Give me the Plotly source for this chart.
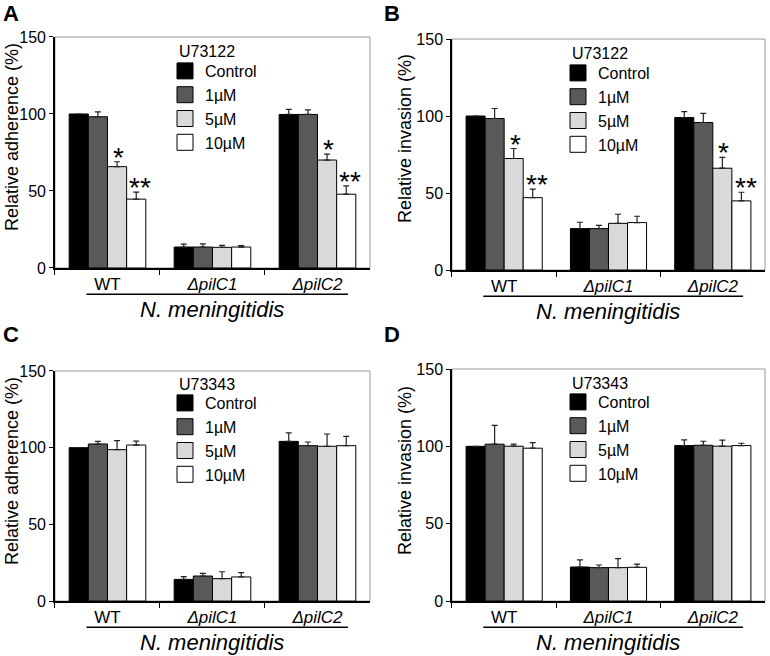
import plotly.graph_objects as go
from plotly.subplots import make_subplots

# --- data (percent of untreated WT) ---
strains = ["WT", "ΔpilC1", "ΔpilC2"]
strain_labels = ["WT", "<i>ΔpilC1</i>", "<i>ΔpilC2</i>"]
doses = ["Control", "1µM", "5µM", "10µM"]
dose_colors = ["#000000", "#595959", "#d9d9d9", "#ffffff"]

# rows = dose (Control, 1, 5, 10 µM), columns = strain
adh_u73122 = [[100.0, 13.6, 99.7], [98.2, 13.6, 99.7], [65.8, 13.4, 70.1], [44.7, 13.6, 47.9]]
adh_u73122_err = [[0.0, 1.9, 3.3], [3.2, 2.1, 3.0], [3.2, 1.3, 3.9], [4.5, 0.9, 5.4]]

inv_u73122 = [[100.0, 26.9, 99.0], [98.4, 26.9, 95.8], [72.4, 30.3, 66.1], [47.0, 30.8, 44.9]]
inv_u73122_err = [[0.0, 4.1, 3.8], [6.5, 2.1, 5.9], [6.5, 5.9, 7.0], [5.5, 4.1, 5.6]]

adh_u73343 = [[100.0, 14.1, 104.1], [102.4, 16.3, 101.3], [98.7, 14.6, 100.9], [101.7, 15.7, 101.3]]
adh_u73343_err = [[0.0, 1.8, 5.5], [1.7, 1.7, 2.4], [5.9, 4.5, 8.0], [2.6, 2.8, 6.1]]

inv_u73343 = [[100.0, 22.0, 100.5], [101.4, 21.6, 100.7], [100.1, 21.6, 100.1], [98.8, 21.8, 100.5]]
inv_u73343_err = [[0.0, 4.6, 3.7], [12.1, 1.7, 2.6], [1.3, 5.8, 3.9], [3.6, 2.0, 1.5]]

# significance marks: (strain, dose index, label)
sig_u73122 = [("WT", 2, "*"), ("WT", 3, "**"), ("ΔpilC2", 2, "*"), ("ΔpilC2", 3, "**")]

FONT = "Liberation Sans, Arial, sans-serif"
W, H = 770, 656

panels = [
    # letter, means, errs, ytitle, inhibitor, sig, row, col, xdom, ydom,
    # legend pos, letter pos, y-title centre (all in page pixels)
    ("A", adh_u73122, adh_u73122_err, "Relative adherence (%)", "U73122", sig_u73122,
     1, 1, [0.0714, 0.4805], [0.5915, 0.9436], (177, 52), (11, 13.5), (12, 137)),
    ("B", inv_u73122, inv_u73122_err, "Relative invasion (%)", "U73122", sig_u73122,
     1, 2, [0.587, 0.9935], [0.5884, 0.9405], (570, 54), (392, 13.5), (405, 139)),
    ("C", adh_u73343, adh_u73343_err, "Relative adherence (%)", "U73343", [],
     2, 1, [0.0714, 0.4805], [0.0838, 0.4345], (177, 384), (11, 335), (12, 471)),
    ("D", inv_u73343, inv_u73343_err, "Relative invasion (%)", "U73343", [],
     2, 2, [0.587, 0.9935], [0.0838, 0.4375], (570, 383), (392, 335), (405, 471)),
]

fig = make_subplots(rows=2, cols=2)

annotations = []
shapes = []
for k, (letter, means, errs, ytitle, inhib, sig, r, c, xdom, ydom, lpos, ppos, tpos) in enumerate(panels):
    legend_id = "legend" if k == 0 else "legend%d" % (k + 1)
    ax = "" if k == 0 else str(k + 1)
    for i, dose in enumerate(doses):
        fig.add_trace(go.Bar(
            x=strains, y=means[i], name=dose, showlegend=False,
            marker=dict(color=dose_colors[i], line=dict(color="#000000", width=1)),
            error_y=dict(type="data", symmetric=False, array=errs[i],
                         arrayminus=[0] * len(strains), color="#222222",
                         thickness=1.2, width=3),
        ), row=r, col=c)
        # legend entry with a bigger square than the bar default
        fig.add_trace(go.Scatter(
            x=[None], y=[None], mode="markers", name=dose, legend=legend_id,
            marker=dict(symbol="square", size=16, color=dose_colors[i],
                        line=dict(color="#000000", width=1)),
        ), row=r, col=c)

    fig.update_xaxes(row=r, col=c, domain=xdom, automargin=False, categoryorder="array",
                     categoryarray=strains, tickvals=strains, ticktext=strain_labels,
                     showline=True, linecolor="#000000", linewidth=2, ticks="outside",
                     tickson="boundaries", ticklen=5, tickcolor="#000000",
                     tickfont=dict(size=17, color="#000000"), showgrid=False, zeroline=False)
    fig.update_yaxes(row=r, col=c, domain=ydom, automargin=False, range=[0, 150],
                     tickvals=[0, 50, 100, 150], showline=True, linecolor="#000000",
                     linewidth=1.5, ticks="outside", ticklen=4, tickcolor="#000000",
                     tickfont=dict(size=16, color="#000000"), showgrid=False, zeroline=False)

    # y title sits a bit above the axis centre in the original, so place it by hand
    annotations.append(dict(xref="paper", yref="paper", x=tpos[0] / W, y=1 - tpos[1] / H,
                            xanchor="center", yanchor="middle", textangle=-90,
                            showarrow=False, text=ytitle,
                            font=dict(size=18, color="#000000")))

    # legend (title drawn separately so the first box sits close under it)
    fig.update_layout(**{legend_id: dict(
        x=(lpos[0] - 12) / W, y=1 - (lpos[1] + 2) / H, xanchor="left", yanchor="top",
        bgcolor="rgba(0,0,0,0)", font=dict(size=16, color="#000000"),
        itemwidth=30, tracegroupgap=0,
    )})
    annotations.append(dict(xref="paper", yref="paper", x=lpos[0] / W, y=1 - lpos[1] / H,
                            xanchor="left", yanchor="middle", showarrow=False, text=inhib,
                            font=dict(size=16, color="#000000")))

    # gray frame on top / right
    shapes.append(dict(type="rect", xref="x%s domain" % ax, yref="y%s domain" % ax,
                       x0=0, x1=1, y0=0, y1=1, line=dict(color="#9a9a9a", width=1),
                       layer="below"))
    # underline + species name
    shapes.append(dict(type="line", xref="x%s domain" % ax, yref="paper",
                       x0=0.1, x1=0.93, y0=ydom[0] - 0.04, y1=ydom[0] - 0.04,
                       line=dict(color="#000000", width=1.5)))
    annotations.append(dict(xref="x%s domain" % ax, yref="paper", x=0.5, y=ydom[0] - 0.041,
                            xanchor="center", yanchor="top", showarrow=False,
                            text="<i>N. meningitidis</i>", font=dict(size=22, color="#000000")))
    # panel letter
    annotations.append(dict(xref="paper", yref="paper", x=ppos[0] / W, y=1 - ppos[1] / H,
                            xanchor="center", yanchor="middle", showarrow=False,
                            text="<b>%s</b>" % letter, font=dict(size=22, color="#000000")))
    # asterisks above error bars
    for strain, di, lab in sig:
        j = strains.index(strain)
        annotations.append(dict(xref="x" + ax, yref="y" + ax, x=strain,
                                y=means[di][j] + errs[di][j], xshift=11 if di == 2 else 33,
                                yshift=-13, xanchor="center", yanchor="bottom",
                                showarrow=False, text=lab,
                                font=dict(size=28, color="#000000")))

fig.update_layout(
    width=W, height=H, margin=dict(l=0, r=0, t=0, b=0),
    plot_bgcolor="#ffffff", paper_bgcolor="#ffffff",
    font=dict(family=FONT, color="#000000"),
    barmode="group", bargap=0.27, bargroupgap=0,
    annotations=annotations, shapes=shapes,
)

# the page body has a default 8px margin; drop it so the figure fills the window
fig.write_html("out.html", config={"displayModeBar": False},
               post_script="document.body.style.margin='0';")
